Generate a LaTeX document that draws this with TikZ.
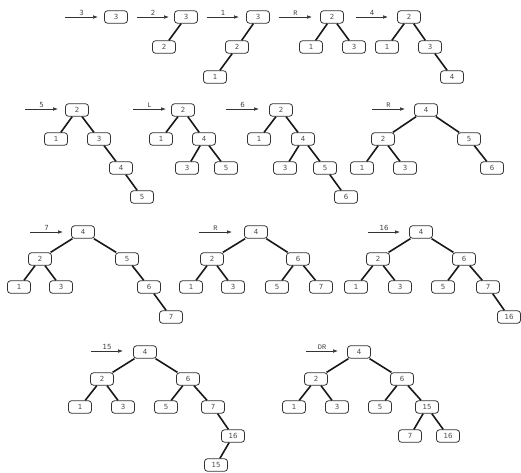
\documentclass[tikz,border=0pt]{standalone}
\usepackage{fontspec}
\setmainfont{DejaVu Sans}
\newfontfamily\labmono{Liberation Mono}
\usetikzlibrary{arrows.meta}
\tikzset{
  bn/.style={draw=black!80, line width=0.8pt, rounded corners=3pt, fill=white,
    minimum width=23pt, minimum height=12.5pt, inner sep=0pt,
    font=\fontsize{7}{8}\selectfont, text=black!70},
  ed/.style={line width=1.6pt, black!90},
  arr/.style={line width=0.6pt, black!80, -{Latex[length=5pt,width=3.6pt]}},
  lab/.style={above=1pt, inner sep=0.5pt, font=\fontsize{7}{8}\selectfont, text=black!75},
  labl/.style={above=1pt, inner sep=0.5pt, font=\labmono\fontsize{7}{8}\selectfont, text=black!75}
}
\begin{document}
\begin{tikzpicture}[x=1pt,y=-1pt]
\useasboundingbox (0,0) rectangle (521,472);
% arrows
\coordinate (s1) at (65,17);  \coordinate (e1) at (98,17);
\coordinate (s2) at (137,17); \coordinate (e2) at (169,17);
\coordinate (s3) at (207,17); \coordinate (e3) at (239,17);
\coordinate (s4) at (279,17); \coordinate (e4) at (312,17);
\coordinate (s5) at (356,17); \coordinate (e5) at (388,17);
\coordinate (s6) at (25,109); \coordinate (e6) at (58,109);
\coordinate (s7) at (133,109); \coordinate (e7) at (166,109);
\coordinate (s8) at (226,109); \coordinate (e8) at (259,109);
\coordinate (s9) at (372,109); \coordinate (e9) at (405,109);
\coordinate (s10) at (30,232); \coordinate (e10) at (63,232);
\coordinate (s11) at (199,232); \coordinate (e11) at (232,232);
\coordinate (s12) at (368,232); \coordinate (e12) at (400,232);
\coordinate (s13) at (91,351); \coordinate (e13) at (123,351);
\coordinate (s14) at (306,351); \coordinate (e14) at (338,351);
\draw[arr] (s1) -- node[lab]{3} (e1);
\draw[arr] (s2) -- node[lab]{2} (e2);
\draw[arr] (s3) -- node[lab]{1} (e3);
\draw[arr] (s4) -- node[labl]{R} (e4);
\draw[arr] (s5) -- node[lab]{4} (e5);
\draw[arr] (s6) -- node[lab]{5} (e6);
\draw[arr] (s7) -- node[labl]{L} (e7);
\draw[arr] (s8) -- node[lab]{6} (e8);
\draw[arr] (s9) -- node[labl]{R} (e9);
\draw[arr] (s10) -- node[lab]{7} (e10);
\draw[arr] (s11) -- node[labl]{R} (e11);
\draw[arr] (s12) -- node[lab]{16} (e12);
\draw[arr] (s13) -- node[lab]{15} (e13);
\draw[arr] (s14) -- node[labl]{DR} (e14);
% T1
\node[bn] (t1a) at (116,17) {3};
% T2
\node[bn] (t2a) at (186,17) {3};
\node[bn] (t2b) at (164,47) {2};
\draw[ed] (t2a) -- (t2b);
% T3
\node[bn] (t3a) at (258,17) {3};
\node[bn] (t3b) at (237,47) {2};
\node[bn] (t3c) at (215,77) {1};
\draw[ed] (t3a) -- (t3b); \draw[ed] (t3b) -- (t3c);
% T4
\node[bn] (t4a) at (332,17) {2};
\node[bn] (t4b) at (311,47) {1};
\node[bn] (t4c) at (354,47) {3};
\draw[ed] (t4a) -- (t4b); \draw[ed] (t4a) -- (t4c);
% T5
\node[bn] (t5a) at (409,17) {2};
\node[bn] (t5b) at (387,47) {1};
\node[bn] (t5c) at (430,47) {3};
\node[bn] (t5d) at (452,77) {4};
\draw[ed] (t5a) -- (t5b); \draw[ed] (t5a) -- (t5c); \draw[ed] (t5c) -- (t5d);
% T6
\node[bn] (t6a) at (77,110) {2};
\node[bn] (t6b) at (56,139) {1};
\node[bn] (t6c) at (99,139) {3};
\node[bn] (t6d) at (121,168) {4};
\node[bn] (t6e) at (142,197) {5};
\draw[ed] (t6a) -- (t6b); \draw[ed] (t6a) -- (t6c); \draw[ed] (t6c) -- (t6d); \draw[ed] (t6d) -- (t6e);
% T7
\node[bn] (t7a) at (183,110) {2};
\node[bn] (t7b) at (161,139) {1};
\node[bn] (t7c) at (204,139) {4};
\node[bn] (t7d) at (187,168) {3};
\node[bn] (t7e) at (226,168) {5};
\draw[ed] (t7a) -- (t7b); \draw[ed] (t7a) -- (t7c); \draw[ed] (t7c) -- (t7d); \draw[ed] (t7c) -- (t7e);
% T8
\node[bn] (t8a) at (281,110) {2};
\node[bn] (t8b) at (259,139) {1};
\node[bn] (t8c) at (303,139) {4};
\node[bn] (t8d) at (285,168) {3};
\node[bn] (t8e) at (325,168) {5};
\node[bn] (t8f) at (346,197) {6};
\draw[ed] (t8a) -- (t8b); \draw[ed] (t8a) -- (t8c); \draw[ed] (t8c) -- (t8d); \draw[ed] (t8c) -- (t8e); \draw[ed] (t8e) -- (t8f);
% T9
\node[bn] (t9a) at (426,110) {4};
\node[bn] (t9b) at (383,139) {2};
\node[bn] (t9c) at (469,139) {5};
\node[bn] (t9d) at (362,168) {1};
\node[bn] (t9e) at (405,168) {3};
\node[bn] (t9f) at (492,168) {6};
\draw[ed] (t9a) -- (t9b); \draw[ed] (t9a) -- (t9c); \draw[ed] (t9b) -- (t9d); \draw[ed] (t9b) -- (t9e); \draw[ed] (t9c) -- (t9f);
% T10
\node[bn] (t10a) at (83,232) {4};
\node[bn] (t10b) at (40,259) {2};
\node[bn] (t10c) at (127,259) {5};
\node[bn] (t10d) at (19,287) {1};
\node[bn] (t10e) at (61,287) {3};
\node[bn] (t10f) at (149,287) {6};
\node[bn] (t10g) at (171,317) {7};
\draw[ed] (t10a) -- (t10b); \draw[ed] (t10a) -- (t10c); \draw[ed] (t10b) -- (t10d); \draw[ed] (t10b) -- (t10e); \draw[ed] (t10c) -- (t10f); \draw[ed] (t10f) -- (t10g);
% T11
\node[bn] (t11a) at (256,232) {4};
\node[bn] (t11b) at (212,259) {2};
\node[bn] (t11c) at (298,259) {6};
\node[bn] (t11d) at (191,287) {1};
\node[bn] (t11e) at (233,287) {3};
\node[bn] (t11f) at (277,287) {5};
\node[bn] (t11g) at (321,287) {7};
\draw[ed] (t11a) -- (t11b); \draw[ed] (t11a) -- (t11c); \draw[ed] (t11b) -- (t11d); \draw[ed] (t11b) -- (t11e); \draw[ed] (t11c) -- (t11f); \draw[ed] (t11c) -- (t11g);
% T12
\node[bn] (t12a) at (421,232) {4};
\node[bn] (t12b) at (378,259) {2};
\node[bn] (t12c) at (464,259) {6};
\node[bn] (t12d) at (356,287) {1};
\node[bn] (t12e) at (400,287) {3};
\node[bn] (t12f) at (443,287) {5};
\node[bn] (t12g) at (488,287) {7};
\node[bn] (t12h) at (509,317) {16};
\draw[ed] (t12a) -- (t12b); \draw[ed] (t12a) -- (t12c); \draw[ed] (t12b) -- (t12d); \draw[ed] (t12b) -- (t12e); \draw[ed] (t12c) -- (t12f); \draw[ed] (t12c) -- (t12g); \draw[ed] (t12g) -- (t12h);
% T13
\node[bn] (t13a) at (145,352) {4};
\node[bn] (t13b) at (102,379) {2};
\node[bn] (t13c) at (188,379) {6};
\node[bn] (t13d) at (80,407) {1};
\node[bn] (t13e) at (123,407) {3};
\node[bn] (t13f) at (166,407) {5};
\node[bn] (t13g) at (213,407) {7};
\node[bn] (t13h) at (233,436) {16};
\node[bn] (t13i) at (216,465) {15};
\draw[ed] (t13a) -- (t13b); \draw[ed] (t13a) -- (t13c); \draw[ed] (t13b) -- (t13d); \draw[ed] (t13b) -- (t13e); \draw[ed] (t13c) -- (t13f); \draw[ed] (t13c) -- (t13g); \draw[ed] (t13g) -- (t13h); \draw[ed] (t13h) -- (t13i);
% T14
\node[bn] (t14a) at (359,352) {4};
\node[bn] (t14b) at (316,379) {2};
\node[bn] (t14c) at (402,379) {6};
\node[bn] (t14d) at (294,407) {1};
\node[bn] (t14e) at (337,407) {3};
\node[bn] (t14f) at (380,407) {5};
\node[bn] (t14g) at (427,407) {15};
\node[bn] (t14h) at (410,436) {7};
\node[bn] (t14i) at (448,436) {16};
\draw[ed] (t14a) -- (t14b); \draw[ed] (t14a) -- (t14c); \draw[ed] (t14b) -- (t14d); \draw[ed] (t14b) -- (t14e); \draw[ed] (t14c) -- (t14f); \draw[ed] (t14c) -- (t14g); \draw[ed] (t14g) -- (t14h); \draw[ed] (t14g) -- (t14i);
\end{tikzpicture}
\end{document}
